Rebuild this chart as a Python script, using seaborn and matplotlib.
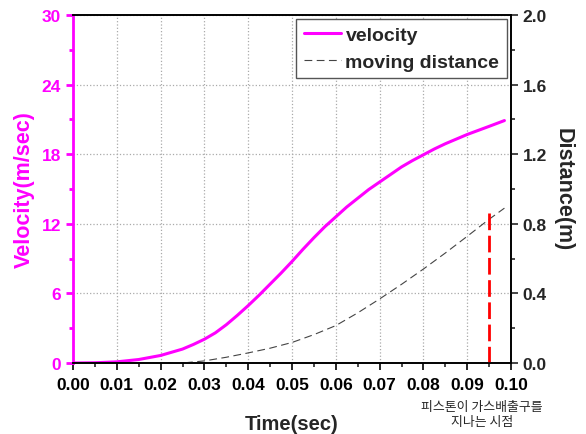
# -*- coding: utf-8 -*-
import seaborn as sns
import pandas as pd
import numpy as np
import matplotlib.pyplot as plt
from matplotlib.ticker import MultipleLocator

# velocity of the piston (m/sec)
time_v = [0.0, 0.005, 0.01, 0.015, 0.02, 0.025, 0.0275, 0.03, 0.0325, 0.035, 0.0375,
          0.04, 0.0425, 0.045, 0.0475, 0.05, 0.0525, 0.055, 0.0575, 0.06, 0.0625,
          0.065, 0.0675, 0.07, 0.0725, 0.075, 0.0775, 0.08, 0.0825, 0.085, 0.0875,
          0.09, 0.0925, 0.095, 0.0985]
velocity = [0.0, 0.02, 0.1, 0.3, 0.65, 1.2, 1.6, 2.05, 2.6, 3.3, 4.1,
            4.95, 5.85, 6.8, 7.75, 8.75, 9.8, 10.8, 11.75, 12.6, 13.45,
            14.2, 14.95, 15.6, 16.25, 16.9, 17.45, 17.95, 18.45, 18.9, 19.3,
            19.7, 20.05, 20.4, 20.9]

# moving distance (m)
time_d = [0.02, 0.025, 0.03, 0.035, 0.04, 0.045, 0.05, 0.055, 0.06, 0.065, 0.07,
          0.075, 0.08, 0.085, 0.09, 0.095, 0.0985]
distance = [0.0, 0.0, 0.012, 0.033, 0.058, 0.085, 0.118, 0.163, 0.215, 0.288, 0.368,
            0.452, 0.54, 0.632, 0.728, 0.826, 0.89]

# time when the piston passes the gas exhaust port
port_time = [0.095]
port_dist = [0.0, 0.89]

df_v = pd.DataFrame({'Time': time_v, 'Velocity': velocity})
df_d = pd.DataFrame({'Time': time_d, 'Distance': distance})

sns.set_style('white')
plt.rcParams['font.family'] = ['Liberation Sans', 'DejaVu Sans']
plt.rcParams['font.weight'] = 'bold'

magenta = '#ff00ff'

fig = plt.figure(figsize=(5.86, 4.35), dpi=100)
ax = fig.add_axes([73/586, 71/435, 438/586, 348/435])
ax2 = ax.twinx()

sns.lineplot(data=df_v, x='Time', y='Velocity', color=magenta, lw=2.2, ax=ax,
             label='velocity', legend=False)
sns.lineplot(data=df_d, x='Time', y='Distance', color='#444444', lw=0.8, ax=ax2,
             label='moving distance', legend=False)
ax2.lines[0].set_dashes((7, 4))
ax2.vlines(port_time, port_dist[0], port_dist[1], colors='red', lw=2,
           linestyles=(0, (6, 2)))

ax.set_xlim(0, 0.1)
ax.set_ylim(0, 30)
ax2.set_ylim(0, 2.0)
ax.xaxis.set_major_locator(MultipleLocator(0.01))
ax.xaxis.set_minor_locator(MultipleLocator(0.005))
ax.yaxis.set_major_locator(MultipleLocator(6))
ax.yaxis.set_minor_locator(MultipleLocator(3))
ax2.yaxis.set_major_locator(MultipleLocator(0.4))
ax2.yaxis.set_minor_locator(MultipleLocator(0.2))
ax.xaxis.set_major_formatter(plt.FormatStrFormatter('%.2f'))
ax2.yaxis.set_major_formatter(plt.FormatStrFormatter('%.1f'))

ax.grid(True, which='major', color='#aaaaaa', ls=':', lw=0.9)
ax.set_axisbelow(True)

for s in ['top', 'bottom', 'right']:
    ax.spines[s].set_color('black')
    ax.spines[s].set_linewidth(1.2)
    ax2.spines[s].set_color('black')
    ax2.spines[s].set_linewidth(1.2)
ax.spines['left'].set_color(magenta)
ax.spines['left'].set_linewidth(2)
ax2.spines['left'].set_visible(False)

ax.tick_params(axis='x', which='major', direction='out', length=5, width=1.2,
               labelsize=12.5, colors='black', bottom=True, pad=5)
ax.tick_params(axis='x', which='minor', direction='out', length=3, width=1.2, bottom=True)
ax.tick_params(axis='y', which='major', direction='out', length=5, width=2,
               labelsize=12.5, colors=magenta, left=True)
ax.tick_params(axis='y', which='minor', direction='out', length=3, width=2,
               colors=magenta, left=True)
ax2.tick_params(axis='y', which='major', direction='out', length=5, width=1.2,
                labelsize=12.5, right=True)
ax2.tick_params(axis='y', which='minor', direction='out', length=3, width=1.2, right=True)
for lab in ax.get_xticklabels() + ax.get_yticklabels() + ax2.get_yticklabels():
    lab.set_fontweight('bold')

ax.set_xlabel('Time(sec)', fontsize=14.5, fontweight='bold', labelpad=16)
ax.set_ylabel('Velocity(m/sec)', fontsize=15.5, fontweight='bold', color=magenta, labelpad=5)
ax2.set_ylabel('Distance(m)', fontsize=15.5, fontweight='bold', rotation=-90, labelpad=19)

h1, l1 = ax.get_legend_handles_labels()
h2, l2 = ax2.get_legend_handles_labels()
leg = ax2.legend(h1 + h2[:1], l1 + l2[:1], loc='upper right', fancybox=False,
                 edgecolor='#555555', framealpha=1, borderaxespad=0.2,
                 prop={'size': 14, 'weight': 'bold'}, handlelength=1.9,
                 handletextpad=0.25, labelspacing=0.45, borderpad=0.4)
leg.get_frame().set_linewidth(1)

fig.text(482/586, 20/435, '피스톤이 가스배출구를\n지나는 시점', ha='center', va='center',
         fontsize=9.3, family=['Noto Sans CJK KR', 'DejaVu Sans'], fontweight='normal',
         linespacing=1.15)

fig.savefig('out.png', dpi=100)
